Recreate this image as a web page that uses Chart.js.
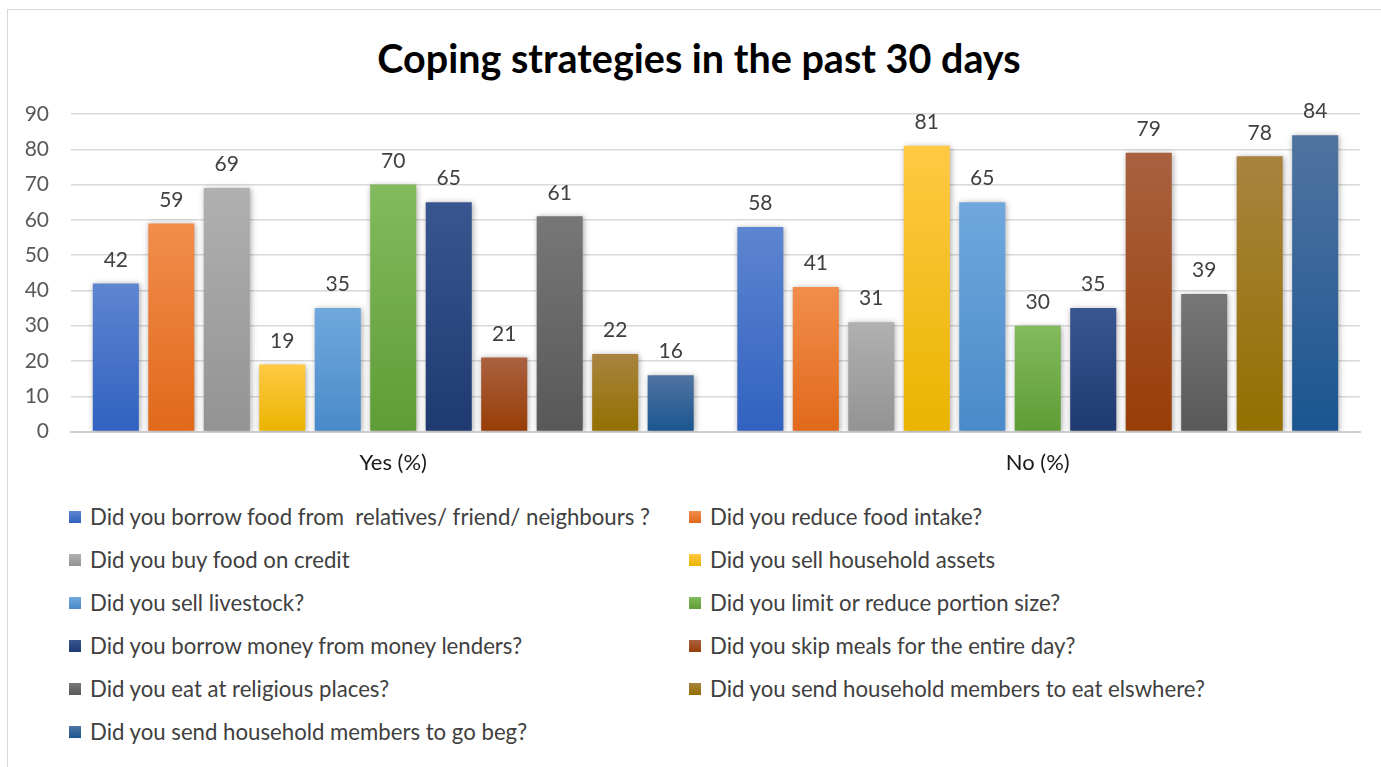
<!DOCTYPE html>
<html>
<head>
<meta charset="utf-8">
<script src="https://cdn.jsdelivr.net/npm/chart.js@4.4.0/dist/chart.umd.min.js"></script>
<style>
  html, body { margin: 0; padding: 0; background: #fff; overflow: hidden; }
  #frame {
    position: absolute; left: 7px; top: 9px; width: 1380px; height: 800px;
    border-left: 1px solid #d9d9d9; border-top: 1px solid #d9d9d9; box-sizing: border-box;
  }
  #title {
    position: absolute; left: 0; top: 25px; width: 1382px; text-align: center;
    font-family: Lato, 'Open Sans', sans-serif; font-weight: bold; font-size: 39.5px;
    line-height: 46px; color: #000;
  }
  #wrap { position: absolute; left: 0; top: 0; width: 1372px; height: 476px; }
  #legend {
    position: absolute; left: 61px; top: 485px; width: 1300px;
    display: grid; grid-template-columns: 620px 640px; row-gap: 0;
    font-family: Lato, 'Open Sans', sans-serif; font-size: 22.2px; color: #404040;
  }
  #legend .item { height: 43px; display: flex; align-items: center; white-space: pre; }
  #legend .sw { width: 12px; height: 12px; margin-right: 9px; flex: none; }
</style>
</head>
<body>
<div id="frame">
  <div id="title">Coping strategies in the past 30 days</div>
  <div id="wrap"><canvas id="chart"></canvas></div>
  <div id="legend"></div>
</div>
<script>
// categories and series
const categories = ['Yes (%)', 'No (%)'];
const seriesNames = [
  'Did you borrow food from  relatives/ friend/ neighbours ?',
  'Did you reduce food intake?',
  'Did you buy food on credit',
  'Did you sell household assets',
  'Did you sell livestock?',
  'Did you limit or reduce portion size?',
  'Did you borrow money from money lenders?',
  'Did you skip meals for the entire day?',
  'Did you eat at religious places?',
  'Did you send household members to eat elswhere?',
  'Did you send household members to go beg?'
];
const yesValues = [42, 59, 69, 19, 35, 70, 65, 21, 61, 22, 16];
const noValues  = [58, 41, 31, 81, 65, 30, 35, 79, 39, 78, 84];
const yTicks = [0, 10, 20, 30, 40, 50, 60, 70, 80, 90];

// top / bottom shade for each series
const topColors = ['#5d85d0', '#f28d4c', '#b0b0b0', '#ffc944', '#70a8dc', '#83ba5d', '#3a5690', '#aa6140', '#777777', '#a9833f', '#5074a1'];
const botColors = ['#3162c0', '#e0691a', '#939393', '#eab400', '#4a8aca', '#5e9d35', '#1e3a70', '#983d06', '#585858', '#937000', '#1b5590'];

const font = "Lato, 'Open Sans', sans-serif";

function barGradient(ctx, i) {
  const chart = ctx.chart;
  const y = chart.scales.y;
  if (!chart.chartArea || !y || ctx.raw == null) return botColors[i];
  const top = y.getPixelForValue(ctx.raw);
  const bottom = y.getPixelForValue(0);
  const g = chart.ctx.createLinearGradient(0, top, 0, bottom);
  g.addColorStop(0, topColors[i]);
  g.addColorStop(1, botColors[i]);
  return g;
}

// soft shadow under the bars
const barShadow = {
  id: 'barShadow',
  beforeDatasetsDraw(chart) {
    const c = chart.ctx;
    c.save();
    c.shadowColor = 'rgba(0,0,0,0.35)';
    c.shadowBlur = 6;
    c.shadowOffsetX = 1;
    c.shadowOffsetY = 1;
  },
  afterDatasetsDraw(chart) { chart.ctx.restore(); }
};

// value above every bar
const valueLabels = {
  id: 'valueLabels',
  afterDatasetsDraw(chart) {
    const c = chart.ctx;
    c.save();
    c.font = '21px ' + font;
    c.fillStyle = '#404040';
    c.textAlign = 'center';
    c.textBaseline = 'bottom';
    chart.data.datasets.forEach((ds, di) => {
      chart.getDatasetMeta(di).data.forEach((el, i) => {
        c.fillText(String(ds.data[i]), el.x, el.y - 13);
      });
    });
    c.restore();
  }
};

const datasets = seriesNames.map((name, i) => ({
  label: name,
  data: [yesValues[i], noValues[i]],
  backgroundColor: ctx => barGradient(ctx, i),
  borderWidth: 0,
  categoryPercentage: 0.947,
  barPercentage: 0.83
}));

new Chart(document.getElementById('chart'), {
  type: 'bar',
  data: { labels: categories, datasets },
  plugins: [barShadow, valueLabels],
  options: {
    responsive: true, maintainAspectRatio: false, animation: false,
    layout: { padding: { left: 0, right: 20, top: 104, bottom: 0 } },
    plugins: {
      legend: { display: false },
      tooltip: { enabled: false }
    },
    scales: {
      x: {
        grid: { display: false },
        border: { color: '#d0d0d0', width: 2 },
        ticks: { color: '#1a1a1a', font: { family: font, size: 22 }, padding: 10 }
      },
      y: {
        min: 0, max: 90,
        afterBuildTicks: axis => { axis.ticks = yTicks.map(v => ({ value: v })); },
        afterFit: axis => { axis.width = 63; },
        grid: { color: '#d9d9d9', lineWidth: 1.5, drawTicks: false },
        border: { display: false },
        ticks: { color: '#595959', font: { family: font, size: 21 }, padding: 22 }
      }
    }
  }
});

// two-column legend below the plot
const legendEl = document.getElementById('legend');
seriesNames.forEach((name, i) => {
  const item = document.createElement('div');
  item.className = 'item';
  const sw = document.createElement('span');
  sw.className = 'sw';
  sw.style.background = `linear-gradient(${topColors[i]}, ${botColors[i]})`;
  const txt = document.createElement('span');
  txt.textContent = name;
  item.appendChild(sw);
  item.appendChild(txt);
  legendEl.appendChild(item);
});
</script>
</body>
</html>
